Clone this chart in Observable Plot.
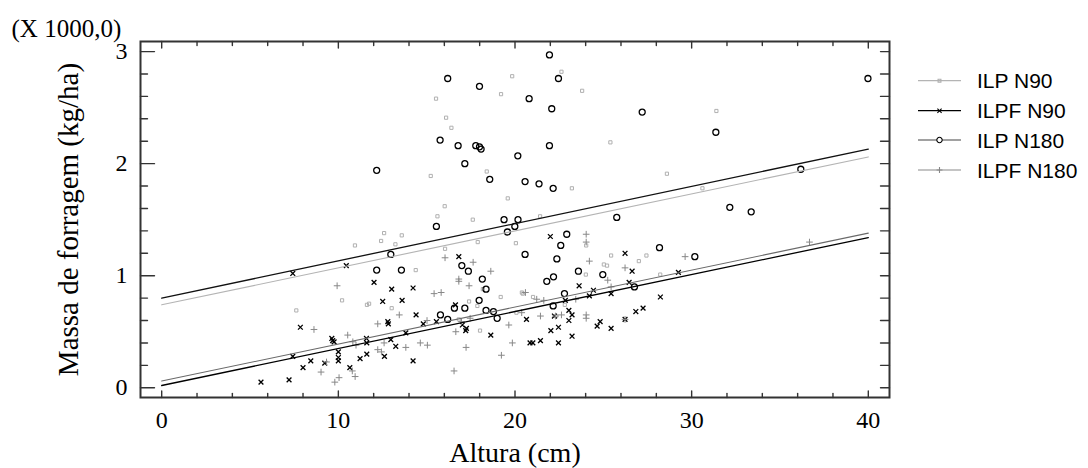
<!DOCTYPE html>
<html><head><meta charset="utf-8">
<script src="https://cdn.jsdelivr.net/npm/d3@7"></script>
<script src="https://cdn.jsdelivr.net/npm/@observablehq/plot@0.6"></script>
<style>
html,body{margin:0;padding:0;background:#fff;}
#wrap{position:relative;width:1088px;height:468px;overflow:hidden;}
#legend{position:absolute;left:910px;top:60px;}
</style></head><body><div id="wrap"></div>
<script>
// ---- data (y in thousands of kg/ha) ----
const seriesNames = ["ILP N90", "ILPF N90", "ILP N180", "ILPF N180"];

const ilpN90 = [[19.84,2.78],[22.63,2.82],[23.80,2.65],[15.53,2.58],[19.21,2.62],[16.10,2.41],[16.40,2.32],[25.40,2.19],[18.40,1.93],[15.23,1.89],[23.22,1.78],[19.59,1.69],[16.02,1.62],[15.61,1.53],[17.61,1.50],[31.40,2.47],[28.60,1.91],[30.61,1.78],[21.42,1.53],[13.59,1.36],[17.89,1.30],[20.05,1.29],[16.04,1.24],[14.38,1.05],[19.19,0.81],[20.44,0.84],[21.02,0.81],[17.40,0.77],[17.87,0.73],[18.02,0.51],[20.08,0.67],[22.33,0.64],[18.18,0.88],[12.59,1.38],[12.42,1.31],[13.23,1.28],[24.03,1.27],[25.44,1.18],[25.03,1.10],[25.21,1.09],[24.01,1.01],[20.39,0.85],[13.02,0.71],[22.82,0.74],[16.82,0.61],[27.01,1.13],[27.44,1.18],[28.22,1.01],[10.94,1.27],[10.21,0.78],[11.62,0.74],[11.74,0.75],[7.62,0.69]];

const ilpfN90 = [[7.42,1.02],[10.45,1.09],[12.02,0.94],[7.85,0.54],[9.63,0.44],[9.68,0.42],[9.76,0.41],[11.59,0.44],[11.61,0.40],[7.42,0.28],[8.44,0.24],[8.00,0.18],[9.23,0.22],[10.00,0.32],[10.00,0.27],[10.00,0.24],[10.65,0.18],[11.23,0.26],[11.61,0.30],[5.62,0.05],[7.21,0.07],[13.02,0.88],[12.51,0.77],[13.61,0.78],[12.80,0.59],[12.83,0.57],[12.97,0.43],[13.25,0.37],[13.82,0.49],[12.61,0.28],[16.82,1.17],[22.00,1.35],[26.23,1.20],[14.23,0.89],[14.40,0.65],[16.63,0.74],[14.81,0.57],[15.55,0.59],[17.02,0.56],[17.21,0.51],[17.25,0.53],[14.23,0.24],[18.63,0.47],[20.65,0.61],[22.23,0.64],[22.03,0.51],[22.46,0.54],[23.05,0.69],[23.05,0.60],[23.23,0.65],[23.23,0.46],[20.85,0.40],[21.01,0.40],[21.44,0.42],[22.46,0.40],[22.85,0.78],[23.63,0.91],[24.44,0.87],[24.21,0.82],[25.44,0.84],[26.23,0.61],[24.65,0.55],[24.82,0.59],[25.44,0.53],[26.63,1.04],[26.46,0.94],[29.25,1.03],[28.23,0.81],[26.84,0.68],[27.25,0.71]];

const ilpN180 = [[21.95,2.97],[16.19,2.76],[22.46,2.76],[17.99,2.69],[20.80,2.58],[22.08,2.49],[15.76,2.21],[16.78,2.16],[17.78,2.16],[17.99,2.15],[18.08,2.13],[21.95,2.16],[20.16,2.07],[17.16,2.00],[12.17,1.94],[18.57,1.86],[20.57,1.84],[21.36,1.82],[22.16,1.78],[27.20,2.46],[31.37,2.28],[39.98,2.76],[36.18,1.95],[32.16,1.61],[33.37,1.57],[25.76,1.52],[19.38,1.50],[20.17,1.50],[19.99,1.44],[15.55,1.44],[19.57,1.39],[22.93,1.37],[22.59,1.27],[20.57,1.19],[22.37,1.15],[13.57,1.05],[16.99,1.09],[17.36,1.04],[18.15,0.97],[18.36,0.88],[22.18,0.99],[21.80,0.95],[17.97,0.78],[16.57,0.71],[17.16,0.71],[18.36,0.69],[18.78,0.68],[18.99,0.62],[15.78,0.65],[16.19,0.61],[22.80,0.84],[22.16,0.73],[28.18,1.25],[30.18,1.17],[23.59,1.04],[24.97,1.01],[26.76,0.90],[12.97,1.19],[12.17,1.05]];

const ilpfN180 = [[9.93,0.91],[8.62,0.52],[10.53,0.47],[10.82,0.41],[11.00,0.38],[12.23,0.57],[12.23,0.34],[9.33,0.23],[9.02,0.14],[10.79,0.15],[10.95,0.10],[9.80,0.05],[10.04,0.09],[12.44,0.32],[12.59,0.40],[13.45,0.65],[13.82,0.36],[16.04,1.16],[17.63,1.12],[18.63,1.04],[16.82,0.97],[16.82,0.95],[17.40,0.91],[15.42,0.84],[15.82,0.85],[24.03,1.37],[24.03,1.30],[24.21,1.13],[26.23,1.07],[25.25,0.96],[20.59,0.85],[21.23,0.79],[21.63,0.78],[23.44,0.79],[24.03,0.65],[24.03,0.62],[21.44,0.64],[22.29,0.64],[22.63,0.65],[25.44,0.90],[19.65,0.56],[17.46,0.62],[16.65,0.50],[14.64,0.40],[15.04,0.38],[17.23,0.36],[19.85,0.40],[19.23,0.29],[16.55,0.15],[20.38,0.67],[16.97,0.59],[15.02,0.60],[26.23,0.61],[29.63,1.17],[36.67,1.30]];

// fitted lines (endpoints)
const fitX = [0, 40];
const fitIlpN90 = [0.74, 2.06];
const fitIlpfN90 = [0.02, 1.34];
const fitIlpN180 = [0.80, 2.13];
const fitIlpfN180 = [0.06, 1.38];

const xTicks = [0, 10, 20, 30, 40];
const xMinorTicks = [2, 4, 6, 8, 12, 14, 16, 18, 22, 24, 26, 28, 32, 34, 36, 38];
const yTicks = [0, 1, 2, 3];
const yMinorTicks = [0.2, 0.4, 0.6, 0.8, 1.2, 1.4, 1.6, 1.8, 2.2, 2.4, 2.6, 2.8];
const xTitle = "Altura (cm)";
const yTitle = "Massa de forragem (kg/ha)";
const yUnit = "(X 1000,0)";

// ---- styles ----
const serif = "'Liberation Serif', 'Times New Roman', serif";
const sans = "'Liberation Sans', Arial, sans-serif";
const st = {
  "ILP N90":   {symbol: "square", stroke: "#b0b0b0", r: 1.8, sw: 1,   line: "#b4b4b4", lw: 1.1, leg: "#b4b4b4"},
  "ILPF N90":  {symbol: "times",  stroke: "#000",    r: 2.3, sw: 1.3, line: "#000",    lw: 1.3, leg: "#000"},
  "ILP N180":  {symbol: "circle", stroke: "#000",    r: 3.0, sw: 1.3, line: "#111",    lw: 1.3, leg: "#444"},
  "ILPF N180": {symbol: "plus",   stroke: "#888888", r: 2.3, sw: 1,   line: "#6a6a6a", lw: 1.1, leg: "#8a8a8a"}
};
const pointSets = [ilpN90, ilpfN90, ilpN180, ilpfN180];
const fits = [fitIlpN90, fitIlpfN90, fitIlpN180, fitIlpfN180];

const tickUp = {draw(c, l) { c.moveTo(0, 0); c.lineTo(0, -l); }};
const tickDown = {draw(c, l) { c.moveTo(0, 0); c.lineTo(0, l); }};
const tickRight = {draw(c, l) { c.moveTo(0, 0); c.lineTo(l, 0); }};
const tickLeft = {draw(c, l) { c.moveTo(0, 0); c.lineTo(-l, 0); }};
const tk = {stroke: "#333", strokeWidth: 1.4, anchor: "start"};

const marks = [];
seriesNames.forEach((name, i) => {
  const s = st[name];
  marks.push(Plot.dot(pointSets[i], {x: d => d[0], y: d => d[1], symbol: () => s.symbol, r: s.r, stroke: s.stroke, strokeWidth: s.sw, fill: "none"}));
});
seriesNames.forEach((name, i) => {
  const s = st[name];
  marks.push(Plot.line(fitX.map((x, j) => ({x, y: fits[i][j]})), {x: "x", y: "y", stroke: s.line, strokeWidth: s.lw}));
});
marks.push(
  Plot.frame({stroke: "#333", strokeWidth: 2}),
  Plot.vectorX(xTicks, {x: d => d, frameAnchor: "bottom", length: 6.5, shape: tickUp, ...tk}),
  Plot.vectorX(xMinorTicks, {x: d => d, frameAnchor: "bottom", length: 4, shape: tickUp, ...tk}),
  Plot.vectorX(xTicks, {x: d => d, frameAnchor: "top", length: 6.5, shape: tickDown, ...tk}),
  Plot.vectorX(xMinorTicks, {x: d => d, frameAnchor: "top", length: 4, shape: tickDown, ...tk}),
  Plot.vectorY(yTicks, {y: d => d, frameAnchor: "left", length: 14, shape: tickRight, ...tk}),
  Plot.vectorY(yMinorTicks, {y: d => d, frameAnchor: "left", length: 7, shape: tickRight, ...tk}),
  Plot.vectorY(yTicks, {y: d => d, frameAnchor: "right", length: 9, shape: tickLeft, ...tk}),
  Plot.vectorY(yMinorTicks, {y: d => d, frameAnchor: "right", length: 9, shape: tickLeft, ...tk}),
  Plot.axisX({ticks: xTicks, tickFormat: d => String(d), tickSize: 0, tickPadding: 13, label: null, fontSize: 24, fontFamily: serif, fill: "#000"}),
  Plot.axisY({ticks: yTicks, tickFormat: d => String(d), tickSize: 0, tickPadding: 13, label: null, fontSize: 24, fontFamily: serif, fill: "#000"}),
  Plot.text([xTitle], {frameAnchor: "bottom", textAnchor: "middle", lineAnchor: "middle", dy: 56, fontSize: 28, fontFamily: serif, fill: "#000"}),
  Plot.text([yTitle], {frameAnchor: "left", textAnchor: "middle", lineAnchor: "middle", dx: -72, rotate: -90, fontSize: 29, fontFamily: serif, fill: "#000"}),
  Plot.text([yUnit], {frameAnchor: "top-left", dx: -129, dy: -13, textAnchor: "start", lineAnchor: "middle", fontSize: 25, fontFamily: serif, fill: "#000"})
);

const chart = Plot.plot({
  width: 1088, height: 468,
  marginLeft: 140, marginRight: 199, marginTop: 41, marginBottom: 71,
  x: {domain: [-1.2, 41.2], label: null},
  y: {domain: [-0.087, 3.09], label: null},
  style: {background: "#fff", color: "#000", fontFamily: serif},
  marks
});
const wrap = document.getElementById("wrap");
wrap.appendChild(chart);

// ---- legend ----
const leg = d3.select(wrap).append("svg").attr("id", "legend").attr("width", 178).attr("height", 130)
  .style("font-family", sans);
const symMap = {square: d3.symbolSquare, times: d3.symbolTimes, circle: d3.symbolCircle, plus: d3.symbolPlus};
seriesNames.forEach((name, i) => {
  const s = st[name];
  const cy = [20.7, 50.7, 80, 110][i];
  const g = leg.append("g").attr("transform", `translate(0,${cy})`);
  g.append("line").attr("x1", 8).attr("x2", 51).attr("y1", 0).attr("y2", 0).attr("stroke", s.leg).attr("stroke-width", 1.2);
  g.append("path").attr("transform", "translate(29.5,0)")
    .attr("d", d3.symbol(symMap[s.symbol], Math.PI * s.r * s.r * 0.8)())
    .attr("fill", s.symbol === "circle" ? "#fff" : "none").attr("stroke", s.stroke).attr("stroke-width", 1.1);
  g.append("text").attr("x", 67).attr("y", 0).attr("dy", "0.36em").attr("font-size", 21).attr("fill", "#000").text(name);
});
</script></body></html>
